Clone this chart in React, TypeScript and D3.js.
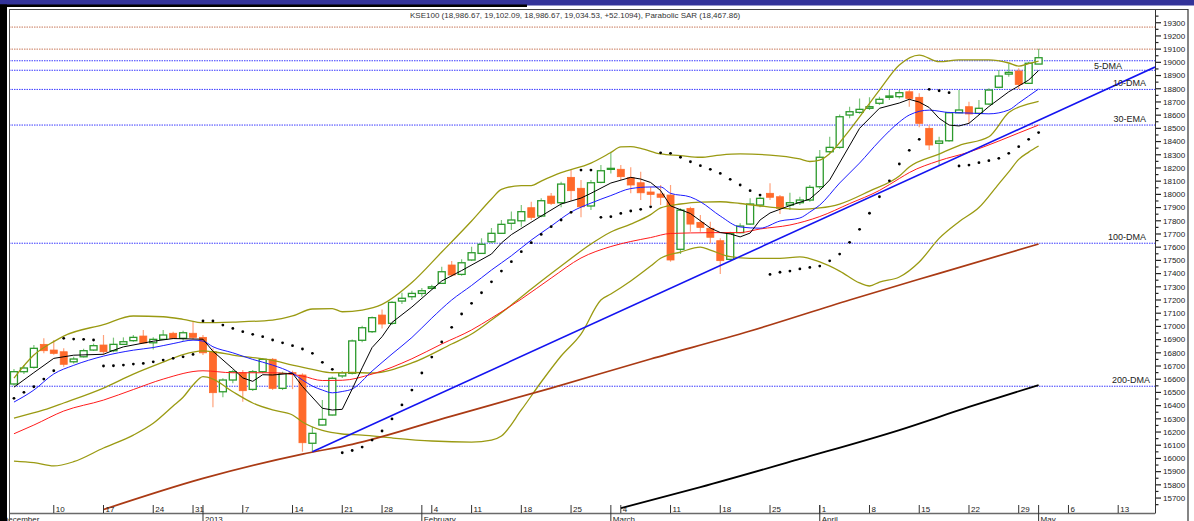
import React, { useEffect, useRef } from 'react';
import * as d3 from 'd3';

// axis days (trading calendar), candles are days[0..103]
const days = [
  "2012-12-04","2012-12-05","2012-12-06","2012-12-07",
  "2012-12-10","2012-12-11","2012-12-12","2012-12-13","2012-12-14",
  "2012-12-17","2012-12-18","2012-12-19","2012-12-20","2012-12-21",
  "2012-12-24","2012-12-26","2012-12-27","2012-12-28",
  "2012-12-31","2013-01-01","2013-01-02","2013-01-03","2013-01-04",
  "2013-01-07","2013-01-08","2013-01-09","2013-01-10","2013-01-11",
  "2013-01-14","2013-01-15","2013-01-16","2013-01-17","2013-01-18",
  "2013-01-21","2013-01-22","2013-01-23","2013-01-25",
  "2013-01-28","2013-01-29","2013-01-30","2013-01-31","2013-02-01",
  "2013-02-04","2013-02-06","2013-02-07","2013-02-08",
  "2013-02-11","2013-02-12","2013-02-13","2013-02-14","2013-02-15",
  "2013-02-18","2013-02-19","2013-02-20","2013-02-21","2013-02-22",
  "2013-02-25","2013-02-26","2013-02-27","2013-02-28","2013-03-01",
  "2013-03-04","2013-03-05","2013-03-06","2013-03-07","2013-03-08",
  "2013-03-11","2013-03-12","2013-03-13","2013-03-14","2013-03-15",
  "2013-03-18","2013-03-19","2013-03-20","2013-03-21","2013-03-22",
  "2013-03-25","2013-03-26","2013-03-27","2013-03-28","2013-03-29",
  "2013-04-01","2013-04-02","2013-04-03","2013-04-04","2013-04-05",
  "2013-04-08","2013-04-09","2013-04-10","2013-04-11","2013-04-12",
  "2013-04-15","2013-04-16","2013-04-17","2013-04-18","2013-04-19",
  "2013-04-22","2013-04-23","2013-04-24","2013-04-25","2013-04-26",
  "2013-04-29","2013-04-30","2013-05-01","2013-05-02","2013-05-03",
  "2013-05-06","2013-05-07","2013-05-08","2013-05-09","2013-05-10",
  "2013-05-13","2013-05-14","2013-05-15","2013-05-16","2013-05-17",
];

const opens = [
  16564,16657,16690,16864,16821,16808,16732,16770,16821,16859,
  16816,16864,16892,16927,16876,16902,16948,16910,16948,16917,
  16808,16505,16594,16649,16523,16657,16751,16531,16650,16632,
  16115,16253,16329,16625,16645,16895,16960,17086,17023,17192,
  17225,17250,17288,17326,17465,17394,17503,17553,17641,17705,
  17781,17800,17899,17836,17987,17937,18129,18046,17912,18091,
  18190,18190,18126,18088,18018,18003,17995,17584,17894,17788,
  17743,17649,17508,17710,17775,17919,18008,17982,17919,17937,
  17957,18058,18323,18356,18601,18621,18652,18690,18735,18740,
  18777,18735,18500,18387,18406,18618,18664,18614,18684,18811,
  18911,18934,18841,18987,
];
const highs = [
  16678,16707,16860,16910,16897,16834,16770,16830,16870,16935,
  16915,16917,16935,16972,16917,16972,16960,16967,17035,16935,
  16834,16607,16672,16670,16670,16760,16760,16657,16665,16645,
  16240,16442,16620,16662,16900,17005,17075,17129,17190,17255,
  17270,17290,17315,17452,17495,17508,17603,17667,17745,17806,
  17870,17920,17944,17970,18010,18096,18184,18109,18109,18222,
  18323,18222,18205,18172,18058,18071,18071,17894,17907,17844,
  17793,17667,17717,17781,17970,17982,18084,17995,18012,17982,
  18071,18336,18437,18605,18664,18727,18735,18740,18790,18790,
  18790,18765,18525,18437,18626,18790,18702,18715,18803,18942,
  18992,18955,19005,19102,
];
const lows = [
  16550,16640,16680,16796,16785,16695,16720,16765,16815,16785,
  16805,16859,16884,16872,16826,16897,16905,16892,16902,16783,
  16387,16463,16570,16430,16510,16645,16518,16518,16525,16051,
  16051,16250,16325,16610,16635,16880,16950,16985,17010,17169,
  17200,17225,17281,17321,17376,17384,17495,17548,17634,17700,
  17730,17755,17806,17826,17919,17902,17952,17826,17881,18084,
  18159,18109,18008,17957,17919,17919,17490,17548,17717,17717,
  17629,17397,17503,17705,17768,17902,17957,17851,17881,17919,
  17944,18040,18311,18345,18576,18610,18639,18677,18715,18727,
  18664,18508,18336,18215,18399,18614,18538,18601,18677,18803,
  18891,18798,18836,18987,
];
const closes = [
  16657,16685,16834,16816,16796,16713,16753,16816,16854,16808,
  16864,16884,16917,16874,16902,16935,16910,16952,16917,16800,
  16498,16594,16657,16513,16657,16751,16531,16644,16640,16119,
  16190,16296,16607,16648,16890,16990,17066,17018,17182,17213,
  17250,17270,17300,17414,17389,17482,17558,17622,17705,17773,
  17806,17869,17826,17952,17932,18078,18028,17906,18088,18179,
  18197,18134,18071,18012,18000,17978,17503,17881,17775,17750,
  17675,17498,17705,17760,17927,17970,17978,17894,17937,17957,
  18053,18281,18356,18588,18626,18644,18664,18720,18745,18770,
  18727,18538,18374,18404,18618,18639,18609,18652,18790,18896,
  18924,18833,18993,19035,
];

// parabolic SAR, one per candle
const sar = [
  16455,16501,16543,16601,16664,16910,16904,16902,16897,16700,
  16702,16707,16715,16720,16732,16745,16758,16770,16788,17041,
  17041,17010,16985,16960,16940,16922,16897,16876,16854,16829,
  16796,16728,16675,16043,16060,16086,16139,16208,16299,16405,
  16518,16647,16768,16882,16993,17094,17175,17255,17338,17419,
  17490,17566,17634,17697,17755,17806,17864,18184,18184,17826,
  17831,17856,17874,17887,17906,18315,18311,18281,18247,18217,
  18190,18159,18114,18071,18028,17995,17394,17410,17419,17435,
  17447,17457,17497,17548,17637,17735,17857,17982,18103,18230,
  18334,18417,18796,18785,18770,18215,18222,18240,18255,18273,
  18311,18361,18417,18468,
];

// indicator lines: [day index, value]
const dma5: [number, number][] = [
  [0,16540],[2,16650],[4,16758],[6,16782],[9,16789],[10,16819],[11,16845],[14,16888],[16,16908],
  [19,16903],[20,16812],[22,16680],[23,16610],[24,16584],[25,16634],[26,16632],[28,16645],[29,16545],
  [31,16380],[32,16367],[33,16372],[34,16526],[35,16686],[36,16840],[37,16922],[38,17030],[40,17147],
  [43,17344],[45,17423],[48,17548],[49,17632],[50,17695],[53,17836],[55,17927],[57,17972],[58,18008],
  [60,18086],[62,18129],[63,18116],[64,18090],[65,18029],[66,17913],[68,17855],[70,17745],[71,17711],
  [72,17700],[73,17678],[74,17707],[75,17806],[76,17859],[78,17915],[80,17965],[81,18030],[82,18109],
  [85,18500],[87,18652],[89,18692],[90,18720],[91,18699],[92,18658],[93,18576],[94,18525],[95,18518],
  [96,18538],[98,18665],[100,18777],[101,18821],[102,18866],[103,18938],
];
const dma10: [number, number][] = [
  [0,16427],[2,16518],[4,16640],[6,16705],[9,16775],[12,16820],[14,16840],[16,16870],[18,16896],
  [19,16889],[20,16846],[22,16800],[24,16750],[26,16707],[28,16645],[29,16594],[30,16548],[31,16518],
  [32,16497],[33,16507],[34,16526],[36,16662],[38,16791],[40,16916],[42,17063],[44,17200],[46,17310],
  [48,17427],[50,17535],[52,17654],[54,17760],[56,17866],[58,17934],[60,17991],[62,18044],[64,18056],
  [65,18056],[66,18008],[68,17980],[69,17944],[71,17836],[73,17753],[75,17744],[77,17798],[79,17821],
  [80,17866],[81,17919],[83,18086],[85,18237],[87,18404],[89,18548],[90,18601],[92,18638],[94,18620],
  [96,18616],[98,18610],[100,18639],[101,18692],[102,18745],[103,18798],
];
const ema30: [number, number][] = [
  [0,16187],[2,16253],[5,16359],[9,16442],[12,16522],[15,16601],[19,16664],[22,16649],[26,16649],
  [29,16624],[31,16590],[33,16592],[36,16639],[40,16755],[43,16867],[46,16973],[48,17063],[51,17207],
  [54,17366],[57,17518],[60,17605],[62,17643],[64,17673],[66,17704],[70,17710],[73,17711],[75,17738],
  [78,17768],[81,17832],[84,17930],[87,18030],[89,18120],[90,18165],[93,18255],[96,18320],[99,18404],
  [101,18465],[103,18525],
];
const bbUpper: [number, number][] = [
  [0,16609],[2,16783],[4,16885],[5,16927],[9,17014],[12,17079],[15,17073],[17,17054],[19,17028],
  [22,17033],[26,17048],[28,17079],[30,17132],[32,17135],[33,17111],[35,17124],[37,17167],[40,17332],
  [43,17563],[46,17798],[48,17965],[49,18038],[51,18067],[52,18067],[53,18101],[55,18164],[58,18237],
  [60,18317],[61,18359],[62,18361],[63,18349],[65,18306],[67,18294],[69,18281],[71,18298],[73,18306],
  [76,18298],[79,18268],[80,18249],[81,18260],[82,18309],[84,18487],[87,18790],[89,18980],[91,19055],
  [93,19005],[95,19018],[98,19018],[100,18995],[101,18972],[102,18991],[103,19010],
];
const bbMiddle: [number, number][] = [
  [0,16306],[3,16367],[5,16420],[9,16533],[12,16639],[15,16730],[17,16787],[19,16814],[20,16808],
  [22,16783],[26,16742],[28,16707],[30,16675],[32,16649],[34,16651],[36,16647],[40,16723],[44,16867],
  [46,16942],[48,17048],[50,17162],[52,17283],[55,17457],[58,17624],[60,17715],[62,17775],[64,17847],
  [65,17897],[67,17927],[69,17942],[71,17944],[73,17931],[76,17904],[79,17887],[81,17897],[83,17927],
  [86,18025],[89,18139],[90,18207],[93,18305],[95,18370],[98,18436],[100,18620],[102,18685],[103,18705],
];
const bbLower: [number, number][] = [
  [0,15980],[2,15968],[4,15943],[6,15975],[9,16079],[12,16177],[14,16266],[16,16397],[17,16463],
  [18,16556],[19,16619],[20,16601],[22,16505],[24,16420],[26,16367],[28,16329],[29,16276],[31,16212],
  [33,16185],[35,16177],[38,16155],[42,16132],[46,16124],[48,16139],[49,16170],[51,16367],[53,16579],
  [55,16776],[57,16942],[59,17200],[60,17245],[62,17344],[64,17457],[65,17516],[67,17563],[69,17601],
  [70,17578],[72,17528],[74,17516],[77,17516],[79,17526],[81,17488],[83,17419],[85,17329],[86,17306],
  [87,17336],[89,17374],[91,17488],[93,17667],[95,17793],[97,17900],[99,18080],[100,18170],[101,18265],
  [102,18320],[103,18366],
];
const dma100: [number, number][] = [
  [9,15613],[19,15849],[29,16033],[34,16107],[44,16321],[54,16533],[64,16753],[74,16965],[84,17200],
  [93,17402],[103,17624],
];
const dma200: [number, number][] = [
  [61,15624],[69,15783],[79,15996],[89,16215],[96,16390],[103,16556],
];
const trendline: [number, number][] = [[30,16051],[114.7,18964]];

const brownLevels = [19267, 19100];
const blueLevels = [19012, 18940, 18795, 18525, 17630, 16547];
const levelLabels = ["5-DMA", "10-DMA", "30-EMA", "100-DMA", "200-DMA"];
const levelLabelValues = [18940, 18795, 18525, 17630, 16547];

const monthLabels: Record<string, string> = {
  "01": "2013", "02": "February", "03": "March", "04": "April", "05": "May",
};

const title = "KSE100 (18,986.67, 19,102.09, 18,986.67, 19,034.53, +52.1094), Parabolic SAR (18,467.86)";

const App = () => {
  const ref = useRef<SVGSVGElement>(null);

  useEffect(() => {
    const svg = d3.select(ref.current);
    svg.selectAll('*').remove();
    const font = 'Liberation Sans, Arial, sans-serif';

    const x = d3.scaleLinear().domain([-0.5, 114.7]).range([9, 1155]);
    const y = d3.scaleLinear().domain([15583, 19404]).range([513.5, 9]);

    svg.append('rect').attr('width', 1194).attr('height', 521).attr('fill', '#fff');

    svg.append('defs').append('clipPath').attr('id', 'plotclip')
      .append('rect').attr('x', 9).attr('y', 9).attr('width', 1146).attr('height', 504.5);

    const plot = svg.append('g').attr('clip-path', 'url(#plotclip)');

    // dotted levels
    plot.selectAll('.lvlr').data(brownLevels).enter().append('line')
      .attr('x1', 9).attr('x2', 1155)
      .attr('y1', d => y(d)).attr('y2', d => y(d))
      .attr('stroke', '#c8785a').attr('stroke-width', 1).attr('stroke-dasharray', '1.5,1');
    plot.selectAll('.lvlb').data(blueLevels).enter().append('line')
      .attr('x1', 9).attr('x2', 1155)
      .attr('y1', d => y(d)).attr('y2', d => y(d))
      .attr('stroke', '#3a3aff').attr('stroke-width', 1).attr('stroke-dasharray', '1.5,1');

    // candles
    const idx = d3.range(closes.length);
    const bw = 7;
    plot.selectAll('.wick').data(idx).enter().append('line')
      .attr('x1', i => x(i)).attr('x2', i => x(i))
      .attr('y1', i => y(highs[i])).attr('y2', i => y(lows[i]))
      .attr('stroke', i => closes[i] >= opens[i] ? '#7cc47c' : '#ffa27c')
      .attr('stroke-width', 1.2);
    plot.selectAll('.body').data(idx).enter().append('rect')
      .attr('x', i => x(i) - bw / 2)
      .attr('y', i => y(Math.max(opens[i], closes[i])))
      .attr('width', bw)
      .attr('height', i => Math.max(1, Math.abs(y(opens[i]) - y(closes[i]))))
      .attr('fill', i => closes[i] >= opens[i] ? '#fff' : '#ff6a2b')
      .attr('stroke', i => closes[i] >= opens[i] ? '#2c9a2c' : '#ff6a2b')
      .attr('stroke-width', i => closes[i] >= opens[i] ? 1.3 : 0.8);

    // indicator lines
    const smooth = d3.line<[number, number]>().x(d => x(d[0])).y(d => y(d[1])).curve(d3.curveMonotoneX);
    const straight = d3.line<[number, number]>().x(d => x(d[0])).y(d => y(d[1]));
    const series: { data: [number, number][]; color: string; w: number; gen: any }[] = [
      { data: bbUpper, color: '#9a9a12', w: 1.3, gen: smooth },
      { data: bbMiddle, color: '#9a9a12', w: 1.3, gen: smooth },
      { data: bbLower, color: '#9a9a12', w: 1.3, gen: smooth },
      { data: dma100, color: '#aa3a14', w: 1.7, gen: smooth },
      { data: dma200, color: '#000', w: 1.8, gen: smooth },
      { data: ema30, color: '#ff1c1c', w: 1, gen: smooth },
      { data: dma10, color: '#1c1cff', w: 1, gen: smooth },
      { data: dma5, color: '#000', w: 1, gen: straight },
      { data: trendline, color: '#1414f0', w: 1.6, gen: straight },
    ];
    series.forEach(s => {
      plot.append('path').attr('d', s.gen(s.data)).attr('fill', 'none')
        .attr('stroke', s.color).attr('stroke-width', s.w);
    });

    // SAR dots
    plot.selectAll('.sar').data(idx).enter().append('circle')
      .attr('cx', i => x(i)).attr('cy', i => y(sar[i])).attr('r', 1.4).attr('fill', '#000');

    // level labels
    svg.selectAll('.lbl').data(levelLabels).enter().append('text')
      .attr('x', (d, i) => i === 0 ? 1122 : (i === 4 ? 1150 : 1146))
      .attr('y', (d, i) => y(levelLabelValues[i]) - (i === 0 ? 1 : 3))
      .attr('text-anchor', 'end').attr('font-family', font).attr('font-size', 9).attr('fill', '#222')
      .text(d => d);

    // right axis
    svg.append('line').attr('x1', 1155.5).attr('x2', 1155.5).attr('y1', 9).attr('y2', 513.5)
      .attr('stroke', '#333').attr('stroke-width', 1);
    const majors = d3.range(15700, 19301, 100);
    const minors = d3.range(15650, 19351, 100);
    svg.selectAll('.mj').data(majors).enter().append('line')
      .attr('x1', 1156).attr('x2', 1161).attr('y1', d => y(d)).attr('y2', d => y(d))
      .attr('stroke', '#222').attr('stroke-width', 1.2);
    svg.selectAll('.mn').data(minors).enter().append('line')
      .attr('x1', 1156).attr('x2', 1158.5).attr('y1', d => y(d)).attr('y2', d => y(d))
      .attr('stroke', '#222').attr('stroke-width', 1.2);
    svg.selectAll('.yl').data(majors).enter().append('text')
      .attr('x', 1163).attr('y', d => y(d)).attr('dy', '0.35em')
      .attr('font-family', font).attr('font-size', 8).attr('fill', '#222')
      .text(d => String(d));

    // bottom axis
    svg.append('line').attr('x1', 9).attr('x2', 1155).attr('y1', 513.5).attr('y2', 513.5)
      .attr('stroke', '#6a6a6a').attr('stroke-width', 1.5);
    const dayIdx = d3.range(days.length);
    const mondays = dayIdx.filter(i => new Date(days[i] + 'T00:00:00Z').getUTCDay() === 1);
    const monthStarts = dayIdx.filter(i => i > 0 && days[i].slice(5, 7) !== days[i - 1].slice(5, 7));
    svg.selectAll('.xt').data(mondays).enter().append('line')
      .attr('x1', i => x(i)).attr('x2', i => x(i)).attr('y1', 505).attr('y2', 513)
      .attr('stroke', '#333').attr('stroke-width', 1);
    svg.selectAll('.xl').data(mondays).enter().append('text')
      .attr('x', i => x(i) + 2).attr('y', 512)
      .attr('font-family', font).attr('font-size', 8).attr('fill', '#222')
      .text(i => String(+days[i].slice(8, 10)));
    svg.selectAll('.ms').data(monthStarts).enter().append('line')
      .attr('x1', i => x(i)).attr('x2', i => x(i)).attr('y1', 505).attr('y2', 521)
      .attr('stroke', '#333').attr('stroke-width', 1);
    svg.selectAll('.ml').data(monthStarts).enter().append('text')
      .attr('x', i => x(i) + 2).attr('y', 522)
      .attr('font-family', font).attr('font-size', 8).attr('fill', '#222')
      .text(i => monthLabels[days[i].slice(5, 7)]);
    svg.append('text').attr('x', 2.5).attr('y', 522)
      .attr('font-family', font).attr('font-size', 8).attr('fill', '#222').text('December');

    // title
    svg.append('text').attr('x', 410).attr('y', 18.3)
      .attr('font-family', font).attr('font-size', 8).attr('fill', '#333').text(title);

    // window frame
    svg.append('line').attr('x1', 9).attr('x2', 1188).attr('y1', 9.5).attr('y2', 9.5)
      .attr('stroke', '#444').attr('stroke-width', 1);
    svg.append('line').attr('x1', 9.5).attr('x2', 9.5).attr('y1', 9).attr('y2', 521)
      .attr('stroke', '#555').attr('stroke-width', 1);
    svg.append('line').attr('x1', 1188).attr('x2', 1188).attr('y1', 9).attr('y2', 521)
      .attr('stroke', '#333').attr('stroke-width', 1.2);
    svg.append('rect').attr('x', 0).attr('y', 0).attr('width', 1194).attr('height', 5.5).attr('fill', '#333399');
    svg.append('rect').attr('x', 0).attr('y', 4.5).attr('width', 527).attr('height', 2.5).attr('fill', '#000');
    svg.append('rect').attr('x', 0).attr('y', 4.5).attr('width', 7).attr('height', 517).attr('fill', '#000');
  }, []);

  return <svg ref={ref} width={1194} height={521} style={{ position: 'absolute', left: 0, top: 0 }} />;
};

export default App;
